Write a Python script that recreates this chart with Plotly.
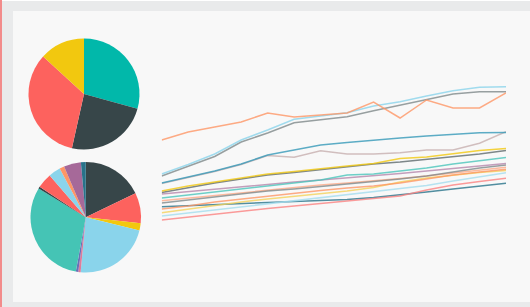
import plotly.graph_objects as go

# ---- data ----
pie1_labels = ["A", "B", "C", "D"]
pie1_values = [29.3, 24.2, 33.3, 13.2]
pie1_colors = ["#01B8AA", "#374649", "#FD625E", "#F2C80F"]

pie2_labels = ["P1", "P2", "P3", "P4", "P5", "P6", "P7", "P8", "P9", "P10", "P11", "P12", "P13"]
pie2_values = [17.8, 8.9, 2.1, 22.6, 0.7, 0.7, 30.8, 0.55, 4.4, 3.5, 1.4, 5.0, 1.4]
pie2_colors = ["#374649", "#FD625E", "#F2C80F", "#8AD4EB", "#DD7C9B", "#6A6FB8",
               "#45C4B5", "#374649", "#FD625E", "#8AD4EB", "#FE9666", "#A66999", "#28738A"]

periods = list(range(14))

s_orange = [167, 175, 180, 185, 194, 190, 192, 194, 205, 189, 207, 199, 199, 214]
s_lightblue = [133, 142.5, 153, 167, 177, 187.7, 191, 194.3, 201, 205.3, 211, 216.3, 219.7, 220.3]
s_gray = [131, 140.5, 150.5, 165, 174, 184.3, 187.5, 190.3, 196.3, 202, 207.7, 213, 215.3, 215.3]
s_blue = [124, 130, 136, 143, 152, 157, 162, 164.5, 167, 169, 171, 173, 174.3, 174.5]
s_pinkgray = [123.5, 129.5, 135.5, 142.5, 151.5, 149.7, 156.3, 153, 153, 154.3, 157, 157, 163.7, 175.3]
s_yellow = [116, 121, 125, 129, 133, 135.5, 138.5, 141, 143.5, 148.5, 150, 153, 156.5, 158.5]
s_dark = [114.5, 119.5, 124, 128, 132, 134.5, 137.5, 140, 143, 145, 147.5, 150, 153, 156.5]
s_teal = [109, 112, 115, 118, 121, 124, 127, 132, 133, 136, 139, 143, 146, 149.5]
s_purple = [113, 115.5, 118, 120.5, 123, 125, 127, 129, 131, 133.5, 136, 138.5, 141, 143.5]
s_gray2 = [104, 107, 110, 113, 116, 118, 120.5, 122.5, 125, 128, 131, 135, 139, 142]
s_peach = [106.3, 109, 111.5, 114, 117, 119.5, 122, 124, 126, 128.5, 131, 134, 137, 139.7]
s_orange2 = [98, 101, 105, 108, 111, 114, 116.5, 119, 121, 124, 128, 132, 135, 137.7]
s_yellow2 = [94.3, 98, 101.5, 105, 108, 110.5, 113, 116, 119.5, 125, 129, 132, 134.5, 136.5]
s_lightblue2 = [91, 94, 97, 100, 103, 106, 109, 112, 115, 118, 121.5, 126, 130, 134.3]
s_pinkred = [87, 90, 93, 96, 98.5, 101, 103.5, 106, 108.5, 111, 117, 122, 125.5, 128.7]
s_darkteal = [100.3, 101.5, 102.5, 103.5, 104.5, 105.5, 106.5, 107.5, 109.5, 112, 115, 118, 121, 123.7]

series = [
    (s_darkteal, "#28738A"), (s_pinkred, "#FB8281"), (s_lightblue2, "#A4DDEE"),
    (s_yellow2, "#F4D25A"), (s_orange2, "#FE9666"), (s_peach, "#FDAB89"),
    (s_gray2, "#7F898A"), (s_purple, "#B687AC"), (s_teal, "#4AC5BB"),
    (s_dark, "#5F6B6D"), (s_yellow, "#F2C80F"), (s_pinkgray, "#C7B0B0"),
    (s_blue, "#3599B8"), (s_gray, "#7F898A"), (s_lightblue, "#8AD4EB"),
    (s_orange, "#FE9666"),
]

W, H = 530, 307

fig = go.Figure()

fig.add_trace(go.Pie(labels=pie1_labels, values=pie1_values, sort=False,
                     direction="clockwise", rotation=0,
                     marker=dict(colors=pie1_colors, line=dict(width=0)),
                     textinfo="none", hoverinfo="label+percent",
                     domain=dict(x=[28.5 / W, 139.5 / W], y=[1 - 149.5 / H, 1 - 38.5 / H])))
fig.add_trace(go.Pie(labels=pie2_labels, values=pie2_values, sort=False,
                     direction="clockwise", rotation=0,
                     marker=dict(colors=pie2_colors, line=dict(width=0)),
                     textinfo="none", hoverinfo="label+percent",
                     domain=dict(x=[30.5 / W, 141 / W], y=[1 - 272.5 / H, 1 - 162 / H])))

for vals, col in series:
    fig.add_trace(go.Scatter(x=periods, y=vals, mode="lines",
                             line=dict(color=col, width=1.5), opacity=0.8,
                             hoverinfo="y"))

fig.update_layout(
    width=W, height=H,
    margin=dict(l=0, r=0, t=0, b=0),
    paper_bgcolor="#E9EAEB",
    plot_bgcolor="rgba(0,0,0,0)",
    showlegend=False,
    xaxis=dict(domain=[161.7 / W, 506 / W], range=[0, 13], visible=False),
    yaxis=dict(domain=[0, 1], range=[0, H], visible=False),
    shapes=[
        dict(type="rect", xref="paper", yref="paper", x0=13 / W, x1=1,
             y0=1 - 302 / H, y1=1 - 11 / H, fillcolor="#F8F8F8", line=dict(width=0), layer="below"),
        dict(type="rect", xref="paper", yref="paper", x0=0, x1=2 / W,
             y0=0, y1=1, fillcolor="#F28B8B", line=dict(width=0), layer="below"),
        dict(type="rect", xref="paper", yref="paper", x0=2 / W, x1=1,
             y0=1 - 1 / H, y1=1, fillcolor="#FFFFFF", line=dict(width=0), layer="below"),
    ],
)

fig.write_html("out.html", config={"displayModeBar": False},
               post_script="document.body.style.margin='0';")
